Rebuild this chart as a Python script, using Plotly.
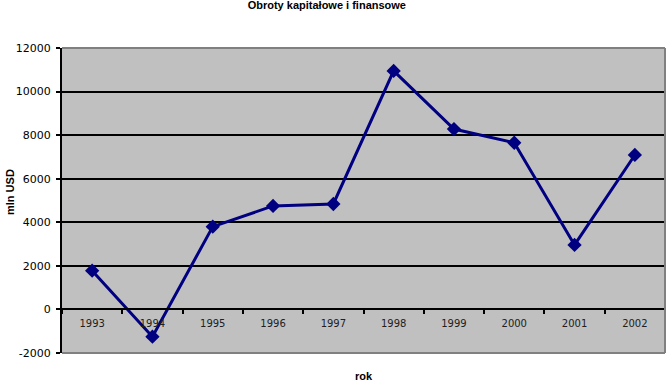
import plotly.graph_objects as go

years = ["1993", "1994", "1995", "1996", "1997", "1998", "1999", "2000", "2001", "2002"]
values = [1780, -1250, 3800, 4750, 4840, 10950, 8280, 7650, 2960, 7090]
y_ticks = [-2000, 0, 2000, 4000, 6000, 8000, 10000, 12000]
y_tick_labels = ["-2000", "0", "2000", "4000", "6000", "8000", "10000", "12000"]

title_text = "Obroty kapitałowe i finansowe"
x_title = "rok"
y_title = "mln USD"

W, H = 667, 384
L, R, T, B = 62, 2, 48, 31
ymin, ymax = -2000, 12000

fig = go.Figure()
fig.add_trace(go.Scatter(
    x=years, y=values, mode="lines+markers",
    line=dict(color="#000080", width=3),
    marker=dict(symbol="diamond", size=11, color="#000080"),
    showlegend=False, cliponaxis=False,
))

plot_h = H - T - B
plot_w = W - L - R

fig.update_layout(
    width=W, height=H,
    margin=dict(l=L, r=R, t=T, b=B, pad=0, autoexpand=False),
    paper_bgcolor="white",
    plot_bgcolor="#C0C0C0",
    font=dict(family="Liberation Sans, Arial, sans-serif", color="black"),
    title=dict(text=title_text, x=0.49, xref="container", xanchor="center",
               y=1 - 1 / H, yref="container", yanchor="top",
               font=dict(size=11, family="Liberation Sans, Arial", color="black", weight="bold")),
    xaxis=dict(
        type="category", categoryorder="array", categoryarray=years,
        range=[-0.5, len(years) - 0.5],
        anchor="free", position=(0 - ymin) / (ymax - ymin),
        showgrid=False, showline=True, linecolor="black", linewidth=2,
        ticks="outside", tickson="boundaries", ticklen=4, tickwidth=2, tickcolor="black",
        tickfont=dict(size=10, family="DejaVu Sans", color="#202020"),
        ticklabelstandoff=5, automargin=False,
        zeroline=False,
    ),
    yaxis=dict(
        range=[ymin, ymax], tickvals=y_ticks, ticktext=y_tick_labels,
        showgrid=True, gridcolor="black", gridwidth=2,
        zeroline=True, zerolinecolor="black", zerolinewidth=2,
        showline=True, linecolor="black", linewidth=2,
        ticks="outside", ticklen=4, tickwidth=2, tickcolor="black",
        tickfont=dict(size=11, family="DejaVu Sans", color="black"),
        ticklabelstandoff=3, automargin=False,
    ),
    shapes=[
        dict(type="line", xref="paper", yref="paper", x0=0, x1=1, y0=1, y1=1,
             line=dict(color="#808080", width=2), layer="above"),
        dict(type="line", xref="paper", yref="paper", x0=1, x1=1, y0=0, y1=1,
             line=dict(color="#808080", width=2), layer="above"),
        dict(type="line", xref="paper", yref="paper", x0=0, x1=1, y0=0, y1=0,
             line=dict(color="#808080", width=2), layer="above"),
    ],
    annotations=[
        dict(text=x_title, xref="paper", yref="paper", x=0.5,
             y=-(376 - (H - B)) / plot_h, xanchor="center", yanchor="middle",
             showarrow=False, font=dict(size=11, weight="bold", color="black")),
        dict(text=y_title, xref="paper", yref="paper", x=-(L - 10) / plot_w,
             y=(H - B - 192) / plot_h, xanchor="center", yanchor="middle",
             textangle=-90, showarrow=False,
             font=dict(size=11, weight="bold", color="black")),
    ],
)

fig.write_html("out.html", config={"displayModeBar": False},
               post_script="document.body.style.margin='0';document.body.style.overflow='hidden';")
